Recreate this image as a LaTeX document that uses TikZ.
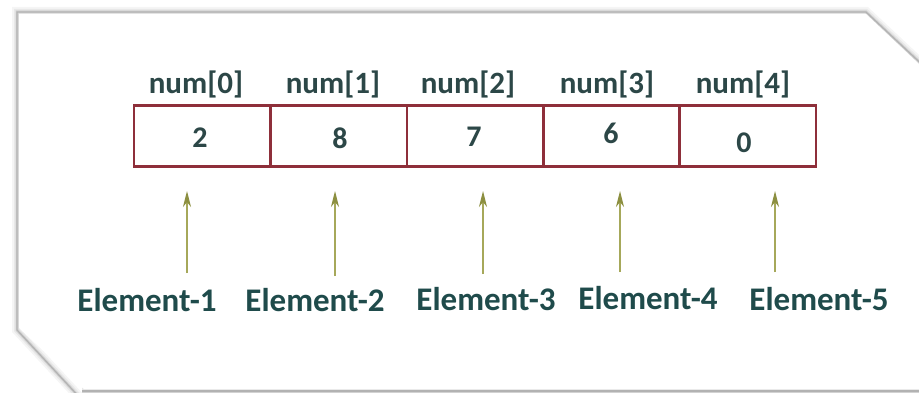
\documentclass[tikz,border=0pt]{standalone}
\usepackage{fontspec}
\setmainfont{Carlito}
\usetikzlibrary{arrows.meta}
\definecolor{boxred}{HTML}{8E2F3A}
\definecolor{txt}{HTML}{2C4747}
\definecolor{eltxt}{HTML}{1F4B4B}
\definecolor{arr}{HTML}{A6A85A}
\definecolor{arrhead}{HTML}{8C8F40}
\tikzset{
  cell/.style={draw=boxred, line width=2.6pt, minimum width=136.4pt, minimum height=61pt, inner sep=0pt, outer sep=0pt, anchor=west},
  idx/.style={text=txt, font=\bfseries\fontsize{31}{32}\selectfont, inner sep=0pt},
  val/.style={text=txt, font=\bfseries\fontsize{30}{31}\selectfont, inner sep=0pt},
  elem/.style={text=eltxt, font=\bfseries\fontsize{33}{34}\selectfont, inner sep=0pt},
  ptr/.style={draw=arr, line width=1.6pt, -{Stealth[length=16pt,width=8pt,inset=5pt,color=arrhead]}},
}
\begin{document}
\begin{tikzpicture}[x=1pt,y=-1pt]
\useasboundingbox (0,0) rectangle (919,393);
% frame with shadow
\foreach \w/\c in {10/gray!8, 6/gray!18, 3/gray!35, 1.2/gray!60}{
  \draw[line width=\w pt, \c, line join=miter] (930,72) -- (866,12) -- (17,12) -- (17,330) -- (82,400);
  \draw[line width=\w pt, \c] (82,391) -- (930,391);
}
\fill[white] (866,14) -- (919,64) -- (919,389) -- (84,389) -- (19,328) -- (19,14) -- cycle;
% cells
\node[cell] (c0) at (134,136) {};
\node[cell] (c1) at (c0.east) {};
\node[cell] (c2) at (c1.east) {};
\node[cell] (c3) at (c2.east) {};
\node[cell] (c4) at (c3.east) {};
% values
\node[val] (v0) at (200,138) {2};
\node[val] (v1) at (340,138) {8};
\node[val] (v2) at (474,137) {7};
\node[val] (v3) at (611,133) {6};
\node[val] (v4) at (744,143) {0};
% indices
\node[idx] (i0) at (196,84) {num[0]};
\node[idx] (i1) at (333,84) {num[1]};
\node[idx] (i2) at (468,84) {num[2]};
\node[idx] (i3) at (607,84) {num[3]};
\node[idx] (i4) at (743,84) {num[4]};
% element labels
\node[elem] (e0) at (147,300) {Element-1};
\node[elem] (e1) at (315,300) {Element-2};
\node[elem] (e2) at (486,299) {Element-3};
\node[elem] (e3) at (648,298) {Element-4};
\node[elem] (e4) at (819,299) {Element-5};
% pointer arrows
\coordinate (t0) at (187,273); \coordinate (h0) at (187,191);
\coordinate (t1) at (335,276); \coordinate (h1) at (335,191);
\coordinate (t2) at (483,274); \coordinate (h2) at (483,191);
\coordinate (t3) at (620,272); \coordinate (h3) at (620,191);
\coordinate (t4) at (775,272); \coordinate (h4) at (775,191);
\foreach \i in {0,...,4}{\draw[ptr] (t\i) -- (h\i);}
\end{tikzpicture}
\end{document}
